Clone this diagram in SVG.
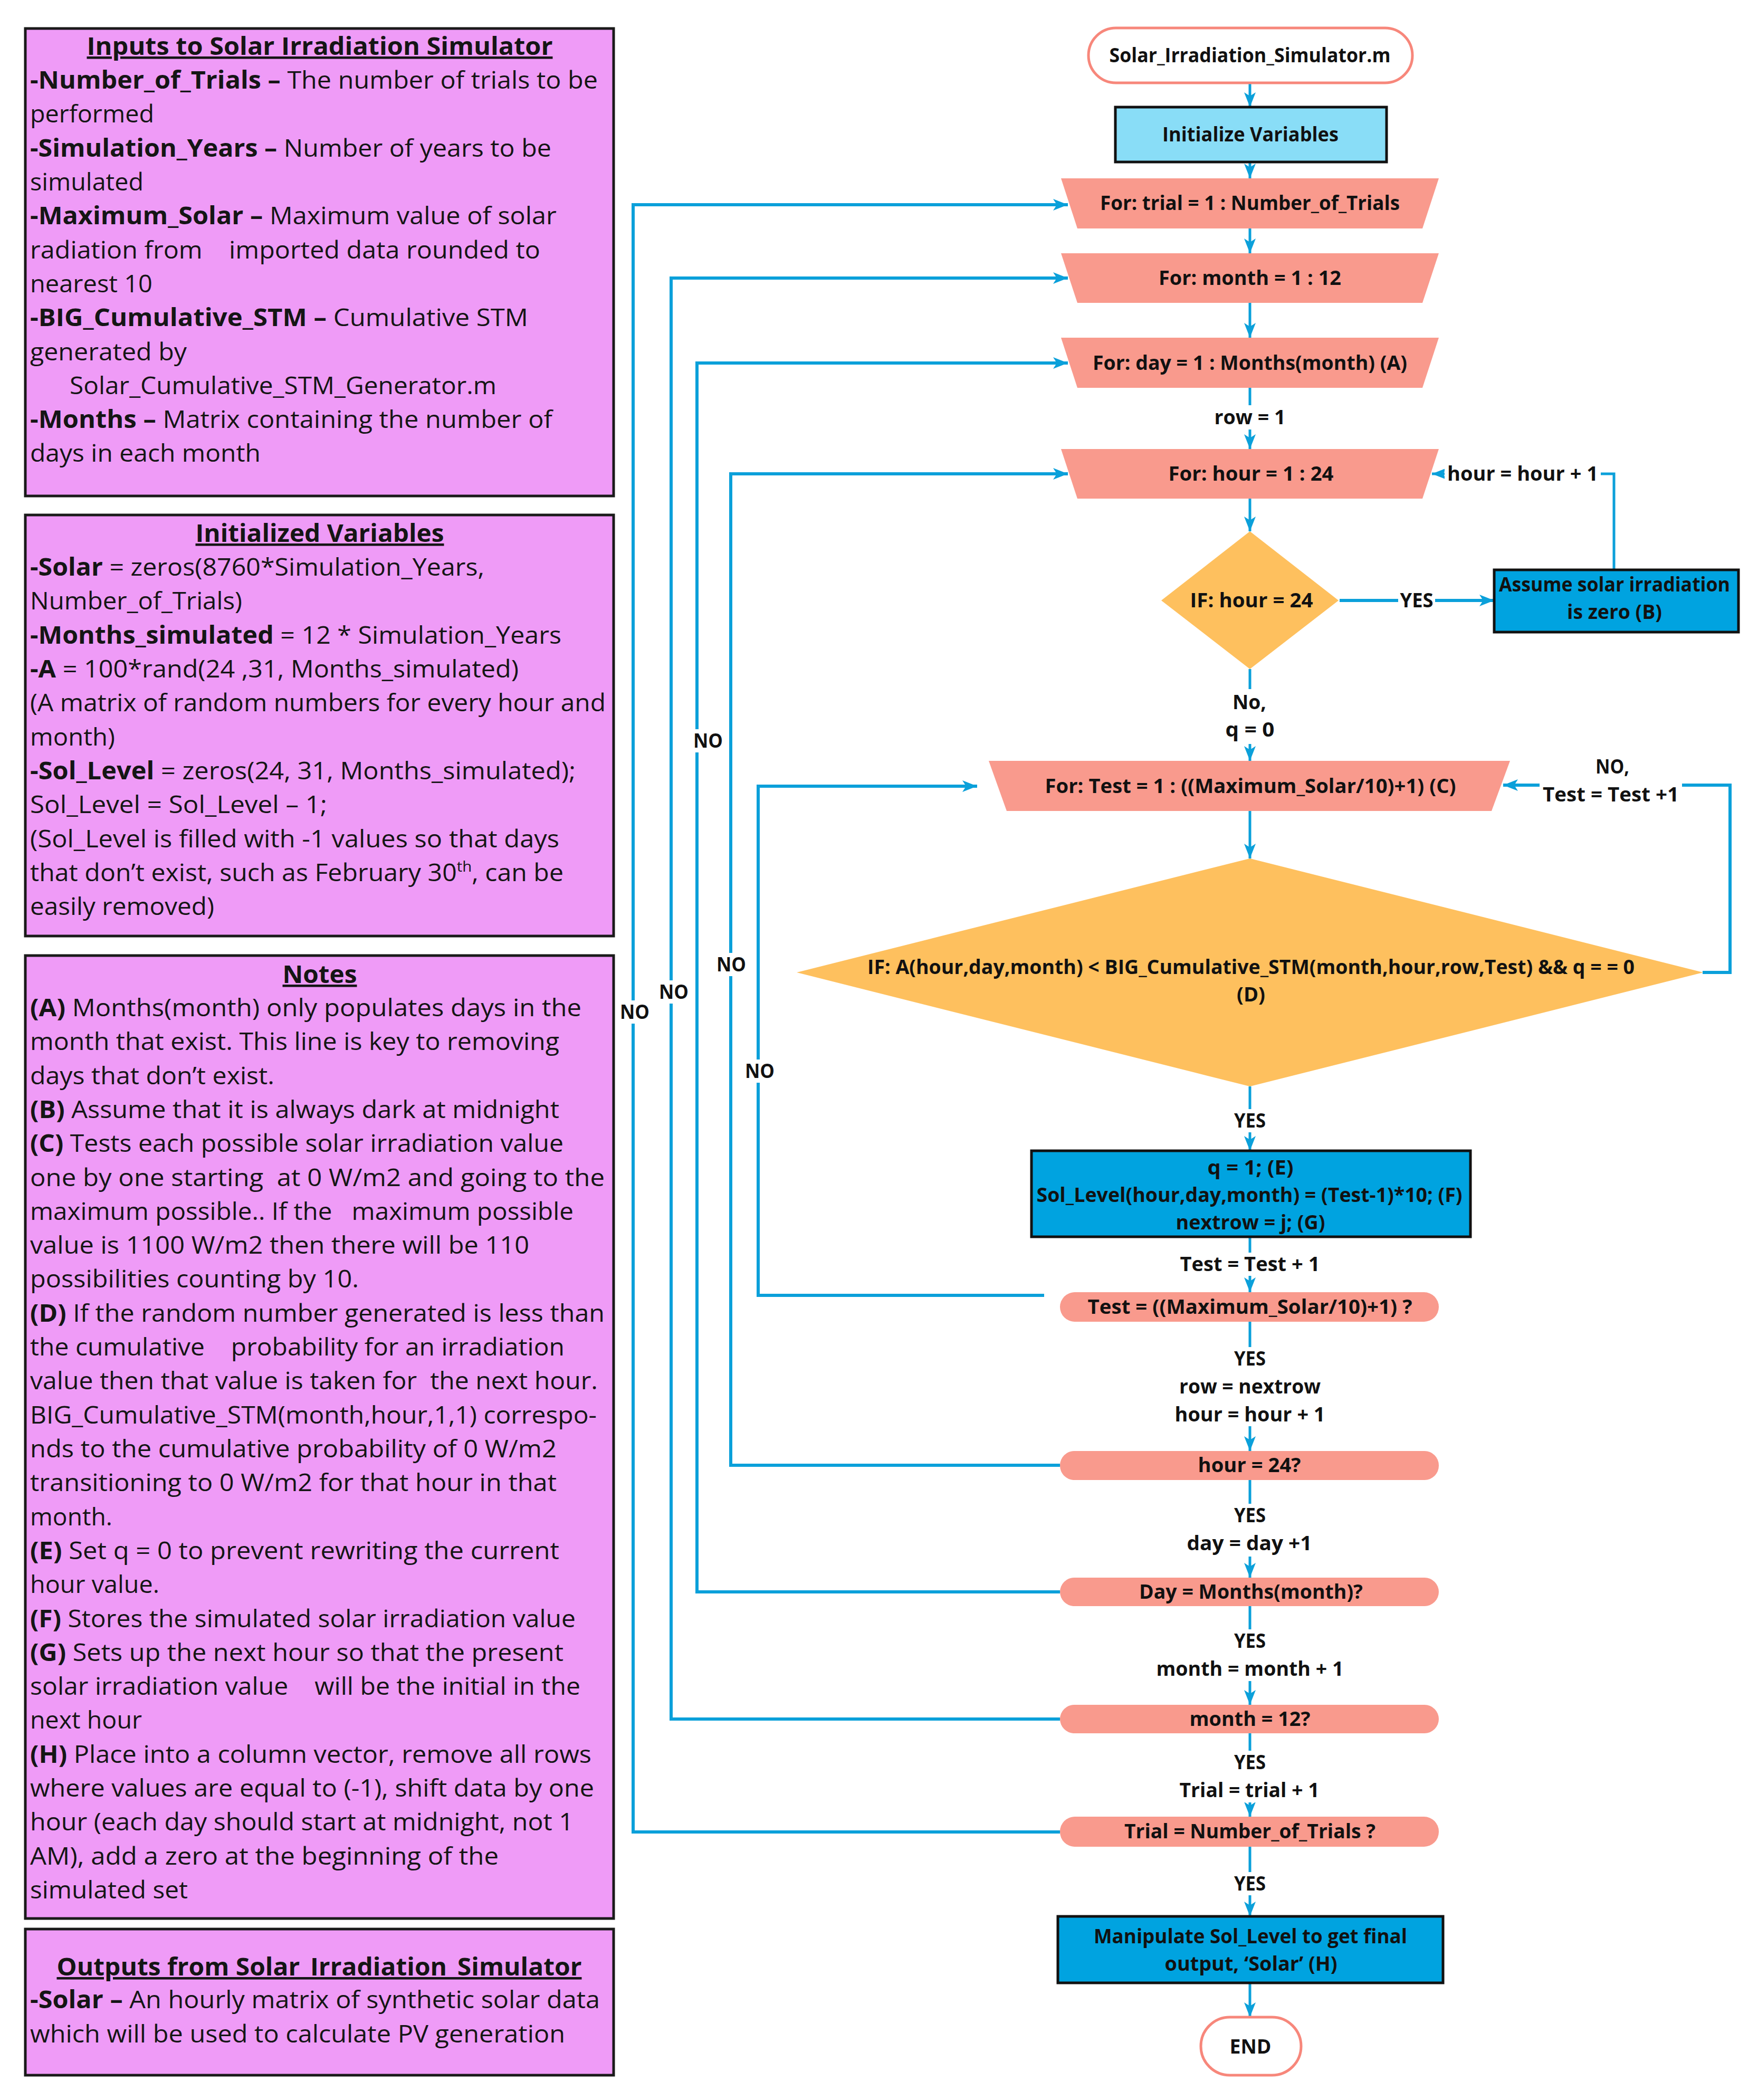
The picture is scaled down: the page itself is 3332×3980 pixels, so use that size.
<svg xmlns="http://www.w3.org/2000/svg" width="3332" height="3980" viewBox="0 0 3332 3980">
<style>
.t{font-family:"Open Sans","Noto Sans",sans-serif;font-size:46px;fill:#151515}
.b{font-weight:700}
.h{font-family:"Open Sans","Noto Sans",sans-serif;font-size:46px;font-weight:700;fill:#151515;text-decoration:underline;text-anchor:middle}
.pink{fill:#EF9BF7;stroke:#1a1a1a;stroke-width:5}
.f{font-family:"Open Sans","Noto Sans",sans-serif;font-size:38px;font-weight:700;fill:#111;text-anchor:middle}
.trap{fill:#F99A8D}
.rnd{fill:#F99A8D}
.proc{fill:#00A3E0;stroke:#111;stroke-width:5}
.dia{fill:#FEC05E}
.term{fill:#fff;stroke:#F7877B;stroke-width:5}
.c{fill:none;stroke:#0BA0DA;stroke-width:6}
.cm{fill:none;stroke:#0BA0DA;stroke-width:5}
.bg{fill:#fff}
</style>
<defs>
<marker id="arr" markerUnits="userSpaceOnUse" markerWidth="28" markerHeight="22" refX="28" refY="11" orient="auto">
<path d="M0,0 L28,11 L0,22 L7,11 z" fill="#0BA0DA"/>
</marker>
</defs>

<!-- Left info boxes -->
<g id="inputs">
<rect class="pink" x="48" y="54" width="1115" height="886"/>
<text class="h" x="606" y="104" textLength="883" lengthAdjust="spacingAndGlyphs">Inputs to Solar Irradiation Simulator</text>
<text class="t" x="57" y="168" textLength="1076" lengthAdjust="spacingAndGlyphs"><tspan class="b">-Number_of_Trials –</tspan> The number of trials to be</text>
<text class="t" x="57" y="232" textLength="235" lengthAdjust="spacingAndGlyphs">performed</text>
<text class="t" x="57" y="297" textLength="988" lengthAdjust="spacingAndGlyphs"><tspan class="b">-Simulation_Years –</tspan> Number of years to be</text>
<text class="t" x="57" y="361" textLength="215" lengthAdjust="spacingAndGlyphs">simulated</text>
<text class="t" x="57" y="425" textLength="998" lengthAdjust="spacingAndGlyphs"><tspan class="b">-Maximum_Solar –</tspan> Maximum value of solar</text>
<text class="t" x="57" y="490" textLength="967" lengthAdjust="spacingAndGlyphs" xml:space="preserve">radiation from    imported data rounded to</text>
<text class="t" x="57" y="554" textLength="232" lengthAdjust="spacingAndGlyphs">nearest 10</text>
<text class="t" x="57" y="618" textLength="944" lengthAdjust="spacingAndGlyphs"><tspan class="b">-BIG_Cumulative_STM –</tspan> Cumulative STM</text>
<text class="t" x="57" y="683" textLength="297" lengthAdjust="spacingAndGlyphs">generated by</text>
<text class="t" x="132" y="747" textLength="809" lengthAdjust="spacingAndGlyphs">Solar_Cumulative_STM_Generator.m</text>
<text class="t" x="57" y="811" textLength="990" lengthAdjust="spacingAndGlyphs"><tspan class="b">-Months –</tspan> Matrix containing the number of</text>
<text class="t" x="57" y="875" textLength="437" lengthAdjust="spacingAndGlyphs">days in each month</text>
</g>

<g id="initialized">
<rect class="pink" x="48" y="976" width="1115" height="798"/>
<text class="h" x="606" y="1027" textLength="471" lengthAdjust="spacingAndGlyphs">Initialized Variables</text>
<text class="t" x="57" y="1091" textLength="861" lengthAdjust="spacingAndGlyphs"><tspan class="b">-Solar</tspan> = zeros(8760*Simulation_Years,</text>
<text class="t" x="57" y="1155" textLength="402" lengthAdjust="spacingAndGlyphs">Number_of_Trials)</text>
<text class="t" x="57" y="1220" textLength="1007" lengthAdjust="spacingAndGlyphs"><tspan class="b">-Months_simulated</tspan> = 12 * Simulation_Years</text>
<text class="t" x="57" y="1284" textLength="926" lengthAdjust="spacingAndGlyphs"><tspan class="b">-A</tspan> = 100*rand(24 ,31, Months_simulated)</text>
<text class="t" x="57" y="1348" textLength="1091" lengthAdjust="spacingAndGlyphs">(A matrix of random numbers for every hour and</text>
<text class="t" x="57" y="1413" textLength="161" lengthAdjust="spacingAndGlyphs">month)</text>
<text class="t" x="57" y="1477" textLength="1034" lengthAdjust="spacingAndGlyphs"><tspan class="b">-Sol_Level</tspan> = zeros(24, 31, Months_simulated);</text>
<text class="t" x="57" y="1541" textLength="563" lengthAdjust="spacingAndGlyphs">Sol_Level = Sol_Level – 1;</text>
<text class="t" x="57" y="1606" textLength="1003" lengthAdjust="spacingAndGlyphs">(Sol_Level is filled with -1 values so that days</text>
<text class="t" x="57" y="1670" textLength="1011" lengthAdjust="spacingAndGlyphs">that don’t exist, such as February 30<tspan dy="-18" font-size="28">th</tspan><tspan dy="18">, can be</tspan></text>
<text class="t" x="57" y="1734" textLength="349" lengthAdjust="spacingAndGlyphs">easily removed)</text>
</g>

<g id="notes">
<rect class="pink" x="48" y="1811" width="1115" height="1825"/>
<text class="h" x="606" y="1863" textLength="141" lengthAdjust="spacingAndGlyphs">Notes</text>
<text class="t" x="57" y="1926" textLength="1045" lengthAdjust="spacingAndGlyphs"><tspan class="b">(A)</tspan> Months(month) only populates days in the</text>
<text class="t" x="57" y="1990" textLength="1003" lengthAdjust="spacingAndGlyphs">month that exist. This line is key to removing</text>
<text class="t" x="57" y="2055" textLength="463" lengthAdjust="spacingAndGlyphs">days that don’t exist.</text>
<text class="t" x="57" y="2119" textLength="1003" lengthAdjust="spacingAndGlyphs"><tspan class="b">(B)</tspan> Assume that it is always dark at midnight</text>
<text class="t" x="57" y="2183" textLength="1011" lengthAdjust="spacingAndGlyphs"><tspan class="b">(C)</tspan> Tests each possible solar irradiation value</text>
<text class="t" x="57" y="2248" textLength="1089" lengthAdjust="spacingAndGlyphs" xml:space="preserve">one by one starting  at 0 W/m2 and going to the</text>
<text class="t" x="57" y="2312" textLength="1030" lengthAdjust="spacingAndGlyphs" xml:space="preserve">maximum possible.. If the   maximum possible</text>
<text class="t" x="57" y="2376" textLength="946" lengthAdjust="spacingAndGlyphs">value is 1100 W/m2 then there will be 110</text>
<text class="t" x="57" y="2440" textLength="623" lengthAdjust="spacingAndGlyphs">possibilities counting by 10.</text>
<text class="t" x="57" y="2505" textLength="1089" lengthAdjust="spacingAndGlyphs"><tspan class="b">(D)</tspan> If the random number generated is less than</text>
<text class="t" x="57" y="2569" textLength="1013" lengthAdjust="spacingAndGlyphs" xml:space="preserve">the cumulative    probability for an irradiation</text>
<text class="t" x="57" y="2633" textLength="1076" lengthAdjust="spacingAndGlyphs" xml:space="preserve">value then that value is taken for  the next hour.</text>
<text class="t" x="57" y="2698" textLength="1074" lengthAdjust="spacingAndGlyphs">BIG_Cumulative_STM(month,hour,1,1) correspo-</text>
<text class="t" x="57" y="2762" textLength="998" lengthAdjust="spacingAndGlyphs">nds to the cumulative probability of 0 W/m2</text>
<text class="t" x="57" y="2826" textLength="998" lengthAdjust="spacingAndGlyphs">transitioning to 0 W/m2 for that hour in that</text>
<text class="t" x="57" y="2891" textLength="156" lengthAdjust="spacingAndGlyphs">month.</text>
<text class="t" x="57" y="2955" textLength="1003" lengthAdjust="spacingAndGlyphs"><tspan class="b">(E)</tspan> Set q = 0 to prevent rewriting the current</text>
<text class="t" x="57" y="3019" textLength="245" lengthAdjust="spacingAndGlyphs">hour value.</text>
<text class="t" x="57" y="3084" textLength="1034" lengthAdjust="spacingAndGlyphs"><tspan class="b">(F)</tspan> Stores the simulated solar irradiation value</text>
<text class="t" x="57" y="3148" textLength="1011" lengthAdjust="spacingAndGlyphs"><tspan class="b">(G)</tspan> Sets up the next hour so that the present</text>
<text class="t" x="57" y="3212" textLength="1043" lengthAdjust="spacingAndGlyphs" xml:space="preserve">solar irradiation value    will be the initial in the</text>
<text class="t" x="57" y="3276" textLength="212" lengthAdjust="spacingAndGlyphs">next hour</text>
<text class="t" x="57" y="3341" textLength="1064" lengthAdjust="spacingAndGlyphs"><tspan class="b">(H)</tspan> Place into a column vector, remove all rows</text>
<text class="t" x="57" y="3405" textLength="1069" lengthAdjust="spacingAndGlyphs">where values are equal to (-1), shift data by one</text>
<text class="t" x="57" y="3469" textLength="1030" lengthAdjust="spacingAndGlyphs">hour (each day should start at midnight, not 1</text>
<text class="t" x="57" y="3534" textLength="888" lengthAdjust="spacingAndGlyphs">AM), add a zero at the beginning of the</text>
<text class="t" x="57" y="3598" textLength="299" lengthAdjust="spacingAndGlyphs">simulated set</text>
</g>

<g id="outputs">
<rect class="pink" x="48" y="3656" width="1115" height="277"/>
<text class="h" x="605" y="3744" textLength="995" lengthAdjust="spacingAndGlyphs">Outputs from Solar_Irradiation_Simulator</text>
<text class="t" x="57" y="3806" textLength="1080" lengthAdjust="spacingAndGlyphs"><tspan class="b">-Solar –</tspan> An hourly matrix of synthetic solar data</text>
<text class="t" x="57" y="3871" textLength="1014" lengthAdjust="spacingAndGlyphs">which will be used to calculate PV generation</text>
</g>

<!-- Connectors -->
<g id="connectors">
<path class="cm" d="M2369,157 V203" marker-end="url(#arr)"/>
<path class="cm" d="M2369,307 V338" marker-end="url(#arr)"/>
<path class="cm" d="M2369,433 V480" marker-end="url(#arr)"/>
<path class="cm" d="M2369,574 V640" marker-end="url(#arr)"/>
<path class="cm" d="M2369,735 V851" marker-end="url(#arr)"/>
<path class="cm" d="M2369,945 V1007" marker-end="url(#arr)"/>
<path class="cm" d="M2369,1268 V1442" marker-end="url(#arr)"/>
<path class="cm" d="M2369,1537 V1627" marker-end="url(#arr)"/>
<path class="cm" d="M2369,2059 V2181" marker-end="url(#arr)"/>
<path class="cm" d="M2369,2344 V2449" marker-end="url(#arr)"/>
<path class="cm" d="M2369,2505 V2750" marker-end="url(#arr)"/>
<path class="cm" d="M2369,2805 V2990" marker-end="url(#arr)"/>
<path class="cm" d="M2369,3044 V3231" marker-end="url(#arr)"/>
<path class="cm" d="M2369,3285 V3443" marker-end="url(#arr)"/>
<path class="cm" d="M2369,3500 V3632" marker-end="url(#arr)"/>
<path class="cm" d="M2369,3758 V3823" marker-end="url(#arr)"/>
<path class="c" d="M2009,3472 H1200 V388 H2024" marker-end="url(#arr)"/>
<path class="c" d="M2009,3258 H1272 V527 H2024" marker-end="url(#arr)"/>
<path class="c" d="M2009,3017 H1321 V688 H2024" marker-end="url(#arr)"/>
<path class="c" d="M2009,2777 H1385 V898 H2024" marker-end="url(#arr)"/>
<path class="c" d="M1979,2455 H1437 V1490 H1852" marker-end="url(#arr)"/>
<path class="cm" d="M3059,1080 V898 H2714" marker-end="url(#arr)"/>
<path class="c" d="M3227,1843 H3279 V1488 H2849" marker-end="url(#arr)"/>
<path class="c" d="M2539,1138 H2832" marker-end="url(#arr)"/>
</g>

<!-- Flowchart nodes -->
<g id="start"><rect class="term" x="2063" y="53" width="614" height="104" rx="52"/>
<text class="f" x="2369" y="118" textLength="533" lengthAdjust="spacingAndGlyphs">Solar_Irradiation_Simulator.m</text></g>
<g id="init"><rect x="2114" y="203" width="514" height="104" fill="#89DDF7" stroke="#111" stroke-width="5"/>
<text class="f" x="2370" y="268" textLength="334" lengthAdjust="spacingAndGlyphs">Initialize Variables</text></g>
<g id="for-trial"><polygon class="trap" points="2011,338 2727,338 2696,433 2042,433"/>
<text class="f" x="2369" y="398" textLength="568" lengthAdjust="spacingAndGlyphs">For: trial = 1 : Number_of_Trials</text></g>
<g id="for-month"><polygon class="trap" points="2011,480 2727,480 2696,574 2042,574"/>
<text class="f" x="2369" y="540" textLength="346" lengthAdjust="spacingAndGlyphs">For: month = 1 : 12</text></g>
<g id="for-day"><polygon class="trap" points="2011,640 2727,640 2696,735 2042,735"/>
<text class="f" x="2369" y="701" textLength="596" lengthAdjust="spacingAndGlyphs">For: day = 1 : Months(month) (A)</text></g>
<g id="for-hour"><polygon class="trap" points="2011,851 2727,851 2696,945 2042,945"/>
<text class="f" x="2371" y="911" textLength="313" lengthAdjust="spacingAndGlyphs">For: hour = 1 : 24</text></g>
<g id="if-hour"><polygon class="dia" points="2369,1007 2537,1138 2369,1268 2201,1138"/>
<text class="f" x="2372" y="1151" textLength="233" lengthAdjust="spacingAndGlyphs">IF: hour = 24</text></g>
<g id="assume"><rect class="proc" x="2832" y="1080" width="463" height="118"/>
<text class="f" x="3060" y="1121" textLength="438" lengthAdjust="spacingAndGlyphs">Assume solar irradiation</text>
<text class="f" x="3060" y="1173" textLength="180" lengthAdjust="spacingAndGlyphs">is zero (B)</text></g>
<g id="for-test"><polygon class="trap" points="1874,1442 2862,1442 2827,1537 1908,1537"/>
<text class="f" x="2370" y="1503" textLength="779" lengthAdjust="spacingAndGlyphs">For: Test = 1 : ((Maximum_Solar/10)+1) (C)</text></g>
<g id="if-a"><polygon class="dia" points="2369,1627 3228,1843 2369,2059 1510,1843"/>
<text class="f" x="2371" y="1846" textLength="1454" lengthAdjust="spacingAndGlyphs">IF: A(hour,day,month) &lt; BIG_Cumulative_STM(month,hour,row,Test) &amp;&amp; q = = 0</text>
<text class="f" x="2371" y="1898" textLength="54" lengthAdjust="spacingAndGlyphs">(D)</text></g>
<g id="set-level"><rect class="proc" x="1955" y="2181" width="832" height="163"/>
<text class="f" x="2370" y="2226" textLength="163" lengthAdjust="spacingAndGlyphs">q = 1; (E)</text>
<text class="f" x="2368" y="2278" textLength="807" lengthAdjust="spacingAndGlyphs">Sol_Level(hour,day,month) = (Test-1)*10; (F)</text>
<text class="f" x="2370" y="2330" textLength="283" lengthAdjust="spacingAndGlyphs">nextrow = j; (G)</text></g>
<g id="test-end"><rect class="rnd" x="2009" y="2449" width="718" height="56" rx="28"/>
<text class="f" x="2369" y="2490" textLength="615" lengthAdjust="spacingAndGlyphs">Test = ((Maximum_Solar/10)+1) ?</text></g>
<g id="hour-end"><rect class="rnd" x="2009" y="2750" width="718" height="55" rx="27"/>
<text class="f" x="2368" y="2790" textLength="195" lengthAdjust="spacingAndGlyphs">hour = 24?</text></g>
<g id="day-end"><rect class="rnd" x="2009" y="2990" width="718" height="54" rx="27"/>
<text class="f" x="2371" y="3030" textLength="424" lengthAdjust="spacingAndGlyphs">Day = Months(month)?</text></g>
<g id="month-end"><rect class="rnd" x="2009" y="3231" width="718" height="54" rx="27"/>
<text class="f" x="2369" y="3271" textLength="229" lengthAdjust="spacingAndGlyphs">month = 12?</text></g>
<g id="trial-end"><rect class="rnd" x="2009" y="3443" width="718" height="57" rx="28"/>
<text class="f" x="2369" y="3484" textLength="476" lengthAdjust="spacingAndGlyphs">Trial = Number_of_Trials ?</text></g>
<g id="manipulate"><rect class="proc" x="2005" y="3632" width="730" height="126"/>
<text class="f" x="2370" y="3683" textLength="594" lengthAdjust="spacingAndGlyphs">Manipulate Sol_Level to get final</text>
<text class="f" x="2371" y="3735" textLength="327" lengthAdjust="spacingAndGlyphs">output, ‘Solar’ (H)</text></g>
<g id="end"><rect class="term" x="2276" y="3823" width="190" height="110" rx="55"/>
<text class="f" x="2370" y="3892" textLength="79" lengthAdjust="spacingAndGlyphs">END</text></g>

<!-- Connector labels -->
<g id="labels">
<rect class="bg" x="2296" y="768" width="146" height="46"/>
<text class="f" x="2369" y="804" textLength="135" lengthAdjust="spacingAndGlyphs">row = 1</text>
<rect class="bg" x="2738" y="875" width="296" height="46"/>
<text class="f" x="2886" y="911" textLength="286" lengthAdjust="spacingAndGlyphs">hour = hour + 1</text>
<rect class="bg" x="2650" y="1116" width="70" height="44"/>
<text class="f" x="2685" y="1151" textLength="63" lengthAdjust="spacingAndGlyphs">YES</text>
<rect class="bg" x="2316" y="1306" width="106" height="104"/>
<text class="f" x="2368" y="1344" textLength="64" lengthAdjust="spacingAndGlyphs">No,</text>
<text class="f" x="2369" y="1396" textLength="93" lengthAdjust="spacingAndGlyphs">q = 0</text>
<text class="f" x="3056" y="1466" textLength="64" lengthAdjust="spacingAndGlyphs">NO,</text>
<rect class="bg" x="2918" y="1484" width="270" height="44"/>
<text class="f" x="3053" y="1519" textLength="258" lengthAdjust="spacingAndGlyphs">Test = Test +1</text>
<rect class="bg" x="1310" y="1382" width="64" height="44"/>
<text class="f" x="1342" y="1417" textLength="56" lengthAdjust="spacingAndGlyphs">NO</text>
<rect class="bg" x="1354" y="1806" width="64" height="44"/>
<text class="f" x="1386" y="1841" textLength="56" lengthAdjust="spacingAndGlyphs">NO</text>
<rect class="bg" x="1245" y="1858" width="64" height="44"/>
<text class="f" x="1277" y="1893" textLength="56" lengthAdjust="spacingAndGlyphs">NO</text>
<rect class="bg" x="1171" y="1896" width="64" height="44"/>
<text class="f" x="1203" y="1931" textLength="56" lengthAdjust="spacingAndGlyphs">NO</text>
<rect class="bg" x="1408" y="2008" width="64" height="44"/>
<text class="f" x="1440" y="2043" textLength="56" lengthAdjust="spacingAndGlyphs">NO</text>
<rect class="bg" x="2334" y="2102" width="70" height="44"/>
<text class="f" x="2369" y="2137" textLength="60" lengthAdjust="spacingAndGlyphs">YES</text>
<rect class="bg" x="2230" y="2374" width="278" height="44"/>
<text class="f" x="2369" y="2409" textLength="265" lengthAdjust="spacingAndGlyphs">Test = Test + 1</text>
<rect class="bg" x="2218" y="2553" width="302" height="150"/>
<text class="f" x="2369" y="2588" textLength="60" lengthAdjust="spacingAndGlyphs">YES</text>
<text class="f" x="2369" y="2641" textLength="268" lengthAdjust="spacingAndGlyphs">row = nextrow</text>
<text class="f" x="2369" y="2694" textLength="285" lengthAdjust="spacingAndGlyphs">hour = hour + 1</text>
<rect class="bg" x="2240" y="2850" width="256" height="100"/>
<text class="f" x="2369" y="2885" textLength="60" lengthAdjust="spacingAndGlyphs">YES</text>
<text class="f" x="2368" y="2938" textLength="237" lengthAdjust="spacingAndGlyphs">day = day +1</text>
<rect class="bg" x="2183" y="3088" width="372" height="98"/>
<text class="f" x="2369" y="3123" textLength="60" lengthAdjust="spacingAndGlyphs">YES</text>
<text class="f" x="2369" y="3176" textLength="355" lengthAdjust="spacingAndGlyphs">month = month + 1</text>
<rect class="bg" x="2228" y="3318" width="280" height="98"/>
<text class="f" x="2369" y="3353" textLength="60" lengthAdjust="spacingAndGlyphs">YES</text>
<text class="f" x="2368" y="3406" textLength="265" lengthAdjust="spacingAndGlyphs">Trial = trial + 1</text>
<rect class="bg" x="2334" y="3548" width="70" height="44"/>
<text class="f" x="2369" y="3583" textLength="60" lengthAdjust="spacingAndGlyphs">YES</text>
</g>
</svg>
